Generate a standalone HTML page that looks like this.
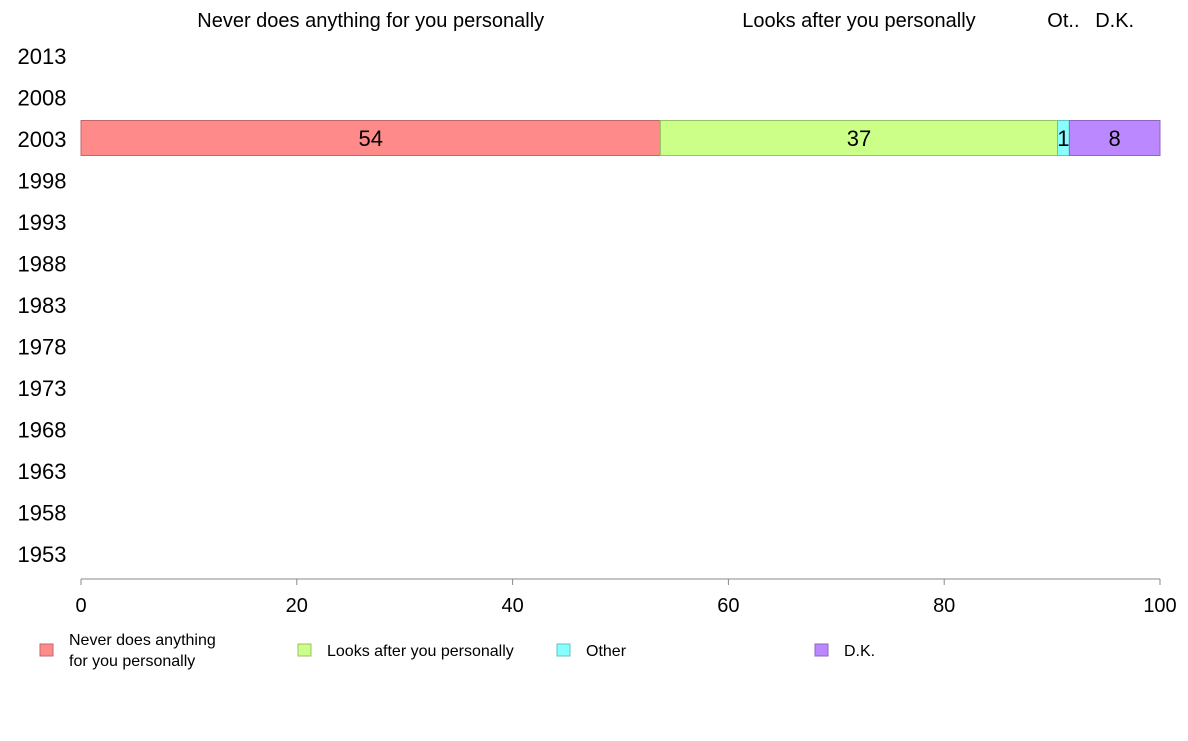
<!DOCTYPE html>
<html><head><meta charset="utf-8"><style>
html,body{margin:0;padding:0;background:#fff;}
svg text{font-family:"Liberation Sans",Arial,sans-serif;}
</style></head><body>
<svg id="chart" width="1188" height="736" xmlns="http://www.w3.org/2000/svg"></svg>
<script>
const years = ["2013","2008","2003","1998","1993","1988","1983","1978","1973","1968","1963","1958","1953"];
const categories = ["Never does anything for you personally","Looks after you personally","Other","D.K."];
const headerLabels = ["Never does anything for you personally","Looks after you personally","Ot..","D.K."];
const barYear = "2003";
const values2003 = [53.7, 36.8, 1.1, 8.4];
const printedValues = ["54","37","1","8"];
const xTicks = [0,20,40,60,80,100];
const colors = ["#FF8A8A","#CCFF88","#88FFFF","#BB88FF"];
const strokes = ["#c06868","#99c066","#66c0c0","#8c66c0"];

const svg = document.getElementById('chart');
const NS = "http://www.w3.org/2000/svg";
const x0 = 81, x1 = 1160;
const xs = v => x0 + (x1 - x0) * v / 100;
const rowTop = 55, rowStep = 41.5;
const ys = i => rowTop + i * rowStep;
function mk(tag, attrs, text){
  const e = document.createElementNS(NS, tag);
  for (const k in attrs) e.setAttribute(k, attrs[k]);
  if (text !== undefined) e.textContent = text;
  svg.appendChild(e);
  return e;
}
// year labels
years.forEach((y,i)=>{
  const t = mk('text',{x:42,y:ys(i)+9,'text-anchor':'middle','font-size':22,fill:'#000'},y);
  
  
});
// bars
const bi = years.indexOf(barYear);
let cum = 0;
values2003.forEach((v,i)=>{
  const xa = xs(cum), xb = xs(cum+v);
  const r = mk('rect',{x:xa,y:ys(bi)-17.5,width:xb-xa,height:35,fill:colors[i],stroke:strokes[i],'stroke-width':1});
  
  
  const t = mk('text',{x:(xa+xb)/2,y:ys(bi)+8,'text-anchor':'middle','font-size':22,fill:'#000'},printedValues[i]);
  
  
  const h = mk('text',{x:(xa+xb)/2,y:27,'text-anchor':'middle','font-size':20,fill:'#000'},headerLabels[i]);
  
  
  cum += v;
});
// axis
const ax = mk('line',{x1:x0,y1:579,x2:x1,y2:579,stroke:'#888','stroke-width':1});


xTicks.forEach(v=>{
  const tk = mk('line',{x1:xs(v),y1:579,x2:xs(v),y2:585,stroke:'#888','stroke-width':1});
  
  
  const t = mk('text',{x:xs(v),y:612,'text-anchor':'middle','font-size':20,fill:'#000'},String(v));
  
  
});
// legend
const legX = [40,298,557,815];
categories.forEach((c,i)=>{
  const r = mk('rect',{x:legX[i],y:644,width:13,height:12,fill:colors[i],stroke:strokes[i],'stroke-width':1});
  
  
  if (i===0){
    const t = mk('text',{x:legX[i]+29,y:645,'font-size':16,fill:'#000'});
    
    
    const a = document.createElementNS(NS,'tspan'); a.setAttribute('x',legX[i]+29); a.textContent='Never does anything'; t.appendChild(a);
    const b = document.createElementNS(NS,'tspan'); b.setAttribute('x',legX[i]+29); b.setAttribute('dy','21'); b.textContent='for you personally'; t.appendChild(b);
  } else {
    const t = mk('text',{x:legX[i]+29,y:656,'font-size':16,fill:'#000'},c);
    
    
  }
});
</script>
</body></html>
